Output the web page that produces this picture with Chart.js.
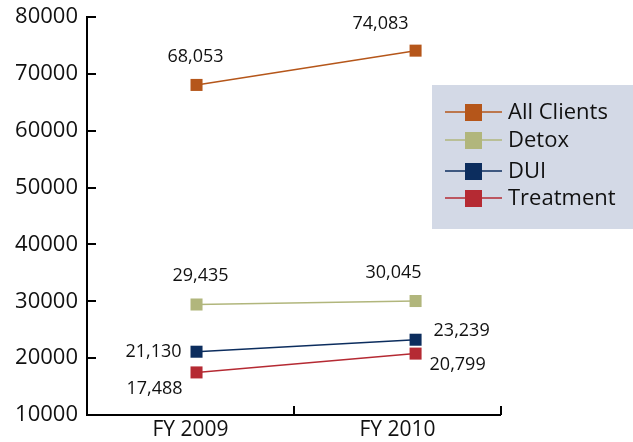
<!DOCTYPE html>
<html><head><meta charset="utf-8">
<script src="https://cdn.jsdelivr.net/npm/chart.js@4/dist/chart.umd.min.js"></script>
<style>html,body{margin:0;padding:0;background:#fff}#wrap{width:633px;height:442px}</style>
</head><body><div id="wrap"><canvas id="c" width="633" height="442"></canvas></div>
<script>
const categories = ["FY 2009", "FY 2010"];
const seriesNames = ["All Clients", "Detox", "DUI", "Treatment"];
const allClients = [68053, 74083];
const detox = [29435, 30045];
const dui = [21130, 23239];
const treatment = [17488, 20799];
const yTicks = [10000, 20000, 30000, 40000, 50000, 60000, 70000, 80000];

const colors = ["#b5561a", "#b1b67c", "#0c2d5e", "#b52a33"];
// label offsets [dx, dy, align] per dataset per point
const labelPlace = [
  [[-1, -28, "center"], [-35, -27, "center"]],
  [[4, -29, "center"], [-22, -28, "center"]],
  [[-15, 0, "right"], [18, -9, "left"]],
  [[-14, 16, "right"], [14, 11, "left"]]
];
const legendRows = [112, 140, 171, 198];
const FONT = "'Open Sans', sans-serif";

const fmt = v => v.toLocaleString('en-US');

const drawPlugin = {
  id: 'custom',
  afterDraw(chart) {
    const ctx = chart.ctx;
    const xs = chart.scales.x, ys = chart.scales.y;
    const ca = chart.chartArea;
    ctx.save();
    ctx.strokeStyle = '#000';
    ctx.lineWidth = 2;
    // axes
    ctx.beginPath();
    ctx.moveTo(ca.left, ca.top - 1);
    ctx.lineTo(ca.left, ca.bottom);
    ctx.lineTo(ca.right, ca.bottom);
    ctx.stroke();
    // y ticks
    yTicks.forEach(v => {
      const y = Math.round(ys.getPixelForValue(v));
      ctx.beginPath(); ctx.moveTo(ca.left, y); ctx.lineTo(ca.left + 9, y); ctx.stroke();
    });
    // x ticks at category boundaries
    for (let i = 0; i <= categories.length; i++) {
      const x = i === 0 ? ca.left : (i === categories.length ? ca.right : (xs.getPixelForValue(i - 1) + xs.getPixelForValue(i)) / 2);
      ctx.beginPath(); ctx.moveTo(x, ca.bottom); ctx.lineTo(x, ca.bottom - 9); ctx.stroke();
    }
    // data labels
    ctx.fillStyle = '#111';
    ctx.font = "18px " + FONT;
    ctx.textBaseline = 'middle';
    chart.data.datasets.forEach((ds, di) => {
      const meta = chart.getDatasetMeta(di);
      meta.data.forEach((pt, pi) => {
        const p = labelPlace[di][pi];
        ctx.textAlign = p[2];
        ctx.fillText(fmt(ds.data[pi].y), pt.x + p[0], pt.y + p[1]);
      });
    });
    // legend
    ctx.fillStyle = '#d3d9e6';
    ctx.fillRect(432, 85, 201, 144);
    ctx.font = "22px " + FONT;
    ctx.textAlign = 'left';
    chart.data.datasets.forEach((ds, di) => {
      const y = legendRows[di];
      ctx.strokeStyle = ds.borderColor;
      ctx.lineWidth = 1.5;
      ctx.beginPath(); ctx.moveTo(445, y); ctx.lineTo(502, y); ctx.stroke();
      ctx.fillStyle = ds.backgroundColor;
      ctx.fillRect(465, y - 8, 17, 17);
      ctx.fillStyle = '#111';
      ctx.fillText(ds.label, 508, y + 1);
    });
    ctx.restore();
  }
};

const datasets = [allClients, detox, dui, treatment].map((d, i) => ({
  label: seriesNames[i],
  data: d.map((v, k) => ({ x: k, y: v })),
  xAxisID: 'xd',
  borderColor: colors[i],
  backgroundColor: colors[i],
  borderWidth: 1.5,
  pointStyle: 'rect',
  pointRadius: 8.5,
  pointBorderWidth: 0,
  pointHoverRadius: 8.5,
  tension: 0
}));

new Chart(document.getElementById('c'), {
  type: 'line',
  data: { labels: categories, datasets },
  options: {
    responsive: false,
    animation: false,
    events: [],
    layout: { padding: { top: 17, right: 132, left: 0, bottom: 0 } },
    plugins: { legend: { display: false }, tooltip: { enabled: false } },
    scales: {
      x: {
        type: 'category',
        offset: true,
        grid: { display: false, drawTicks: false },
        border: { display: false },
        ticks: { color: '#111', font: { family: FONT, size: 21 }, padding: 2 },
        afterFit: s => { s.height = 27; s.paddingLeft = 0; s.paddingRight = 0; }
      },
      xd: {
        type: 'linear',
        display: false,
        min: -0.5, max: 1.39
      },
      y: {
        min: 10000, max: 80000,
        grid: { display: false, drawTicks: false },
        border: { display: false },
        afterBuildTicks: s => { s.ticks = yTicks.map(v => ({ value: v })); },
        ticks: { color: '#111', font: { family: FONT, size: 22 }, padding: 9, callback: v => String(v) },
        afterFit: s => { s.width = 87; s.paddingTop = 0; s.paddingBottom = 0; }
      }
    }
  },
  plugins: [drawPlugin]
});
</script></body></html>
